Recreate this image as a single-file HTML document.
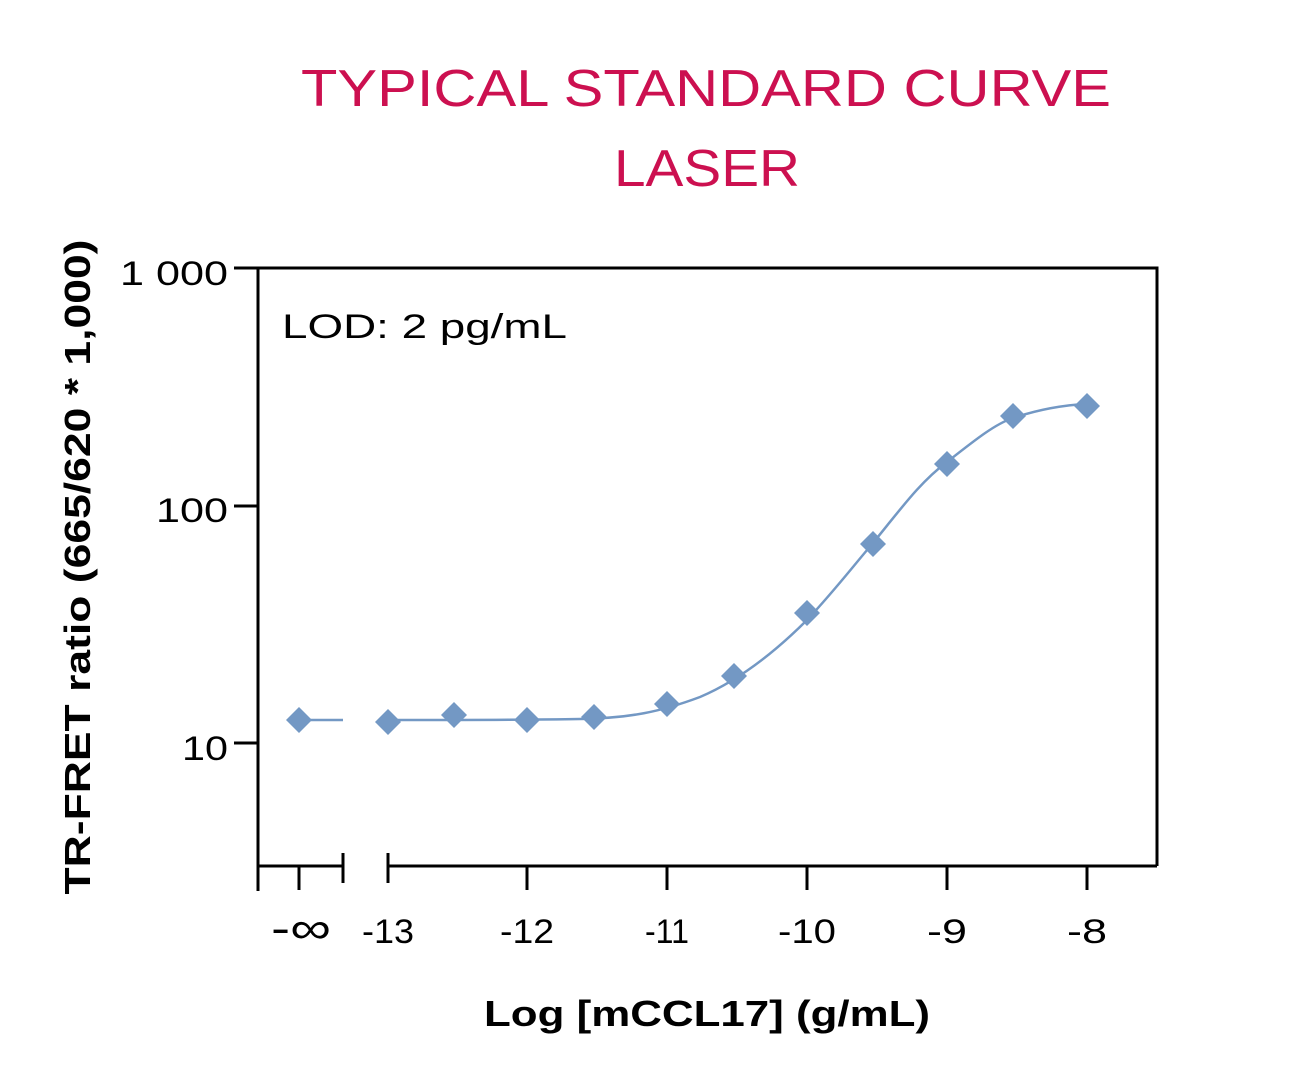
<!DOCTYPE html>
<html><head><style>
html,body{margin:0;padding:0;background:#fff;}
svg{display:block;font-family:"Liberation Sans",sans-serif;}
</style></head><body>
<svg width="1311" height="1080" viewBox="0 0 1311 1080" xmlns="http://www.w3.org/2000/svg">
<text x="706" y="106" text-anchor="middle" font-size="52" fill="#cc1050" textLength="810" lengthAdjust="spacingAndGlyphs">TYPICAL STANDARD CURVE</text>
<text x="707" y="186" text-anchor="middle" font-size="52" fill="#cc1050" textLength="186" lengthAdjust="spacingAndGlyphs">LASER</text>
<g stroke="#000" stroke-width="3" fill="none">
<path d="M258,268 H1157 V866"/>
<path d="M258,268 V891"/>
<path d="M258,866 H343 M388,866 H1157"/>
<path d="M343,853 V883 M388,853 V883"/>
<path d="M299,866 V890 M527,866 V890 M667,866 V890 M807,866 V890 M947,866 V890 M1087,866 V890"/>
<path d="M234,268 H258 M234,506 H258 M234,743 H258"/>
</g>
<g font-size="34" text-anchor="end" fill="#000">
<text x="228" y="285" textLength="108" lengthAdjust="spacingAndGlyphs">1 000</text>
<text x="228" y="522" textLength="72" lengthAdjust="spacingAndGlyphs">100</text>
<text x="228" y="760" textLength="46" lengthAdjust="spacingAndGlyphs">10</text>
</g>
<g font-size="34" text-anchor="middle" fill="#000">
<text x="301" y="943" font-size="44" textLength="60" lengthAdjust="spacingAndGlyphs">-∞</text>
<text x="388" y="943" textLength="52" lengthAdjust="spacingAndGlyphs">-13</text>
<text x="527" y="943" textLength="54" lengthAdjust="spacingAndGlyphs">-12</text>
<text x="667" y="943" textLength="44" lengthAdjust="spacingAndGlyphs">-11</text>
<text x="807" y="943" textLength="58" lengthAdjust="spacingAndGlyphs">-10</text>
<text x="947" y="943" textLength="40" lengthAdjust="spacingAndGlyphs">-9</text>
<text x="1087" y="943" textLength="40" lengthAdjust="spacingAndGlyphs">-8</text>
</g>
<text x="707" y="1026" text-anchor="middle" font-size="36" font-weight="bold" textLength="446" lengthAdjust="spacingAndGlyphs">Log [mCCL17] (g/mL)</text>
<text transform="translate(90,567) rotate(-90)" text-anchor="middle" font-size="36" font-weight="bold" textLength="655" lengthAdjust="spacingAndGlyphs">TR-FRET ratio (665/620 * 1,000)</text>
<text x="282" y="338" font-size="34" textLength="285" lengthAdjust="spacingAndGlyphs">LOD: 2 pg/mL</text>
<g stroke="#7398c4" stroke-width="2.5" fill="none">
<path d="M299,720 H343"/>
<path d="M388,720 C450,720 520,720 580,719 C630,718 660,712 700,697 C740,680 775,652 807,620 C835,590 850,570 873,543 C900,510 920,482 947,462 C975,440 995,424 1013,418 C1040,409 1065,405 1087,404"/>
</g>
<g fill="#7398c4">
<path d="M299,707 l13,13 -13,13 -13,-13z"/>
<path d="M388,709 l13,13 -13,13 -13,-13z"/>
<path d="M454,702 l13,13 -13,13 -13,-13z"/>
<path d="M527,707 l13,13 -13,13 -13,-13z"/>
<path d="M594,704 l13,13 -13,13 -13,-13z"/>
<path d="M667,691 l13,13 -13,13 -13,-13z"/>
<path d="M734,663 l13,13 -13,13 -13,-13z"/>
<path d="M807,600 l13,13 -13,13 -13,-13z"/>
<path d="M873,531 l13,13 -13,13 -13,-13z"/>
<path d="M947,451 l13,13 -13,13 -13,-13z"/>
<path d="M1013,403 l13,13 -13,13 -13,-13z"/>
<path d="M1087,393 l13,13 -13,13 -13,-13z"/>
</g>
</svg>
</body></html>
